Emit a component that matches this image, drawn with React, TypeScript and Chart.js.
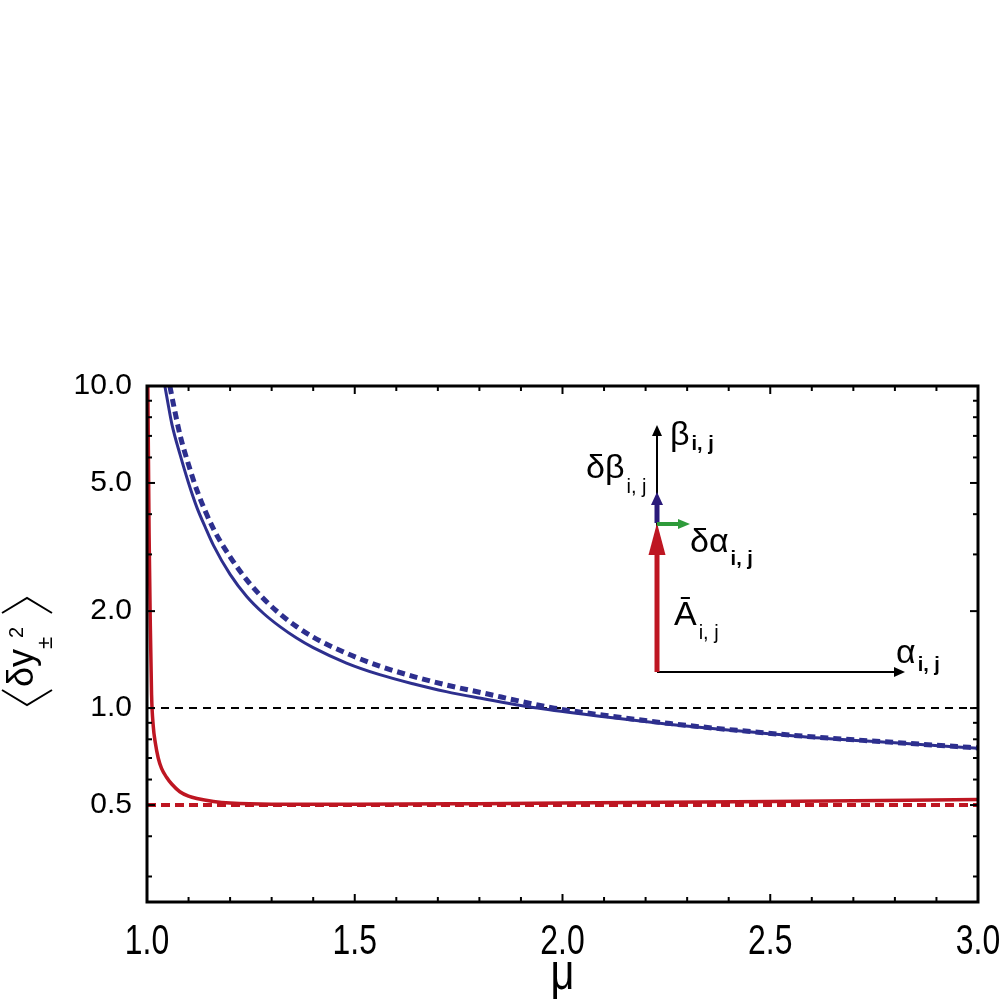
import React, { useEffect, useRef } from "react";
import { Chart, registerables } from "chart.js";

Chart.register(...registerables);

// ---- data ----
const X_TICKS = [1.0, 1.5, 2.0, 2.5, 3.0];
const X_TICK_LABELS = ["1.0", "1.5", "2.0", "2.5", "3.0"];
const X_MINOR = [1.1, 1.2, 1.3, 1.4, 1.6, 1.7, 1.8, 1.9, 2.1, 2.2, 2.3, 2.4, 2.6, 2.7, 2.8, 2.9];
const Y_TICKS = [0.5, 1, 2, 5, 10];
const Y_TICK_LABELS = ["0.5", "1.0", "2.0", "5.0", "10.0"];
const Y_MINOR = [0.3, 0.4, 0.6, 0.7, 0.8, 0.9, 3, 4, 6, 7, 8, 9];

const MU_BLUE_SOLID = [1.043, 1.05, 1.06, 1.08, 1.1, 1.12, 1.14, 1.16, 1.2, 1.24, 1.28, 1.32, 1.36, 1.4, 1.48, 1.56, 1.64, 1.72, 1.8, 1.94, 2.1, 2.26, 2.42, 2.58, 2.8, 3.0];
const Y_BLUE_SOLID = [10.0, 8.9, 7.6, 6.1, 5.0, 4.2, 3.65, 3.2, 2.6, 2.22, 1.97, 1.79, 1.65, 1.54, 1.38, 1.27, 1.19, 1.125, 1.075, 1.0, 0.94, 0.89, 0.85, 0.815, 0.78, 0.75];

const MU_BLUE_DASH = [1.055, 1.065, 1.08, 1.1, 1.12, 1.16, 1.2, 1.24, 1.28, 1.32, 1.36, 1.4, 1.48, 1.56, 1.64, 1.72, 1.8, 1.98, 2.1, 2.26, 2.42, 2.58, 2.8, 3.0];
const Y_BLUE_DASH = [10.0, 8.6, 7.0, 5.7, 4.75, 3.6, 2.95, 2.5, 2.19, 1.96, 1.79, 1.66, 1.48, 1.35, 1.255, 1.18, 1.12, 1.0, 0.95, 0.895, 0.853, 0.818, 0.782, 0.752];

const MU_RED_SOLID = [1.002, 1.005, 1.008, 1.011, 1.015, 1.02, 1.027, 1.035, 1.047, 1.06, 1.079, 1.1, 1.12, 1.16, 1.2, 1.3, 1.5, 1.8, 2.0, 2.5, 3.0];
const Y_RED_SOLID = [10.0, 3.5, 1.8, 1.1, 0.88, 0.78, 0.7, 0.65, 0.61, 0.58, 0.55, 0.533, 0.524, 0.513, 0.507, 0.503, 0.503, 0.505, 0.507, 0.513, 0.52];

const MU_REF = [1.0, 3.0];
const Y_RED_DASH = [0.5, 0.5];
const Y_BLACK_DASH = [1.0, 1.0];

// inset anchor (data coordinates of the diagram origin)
const INSET_MU = 2.227;
const INSET_VAL = 1.294;

const BLUE = "#2D2F8E";
const RED = "#BE1622";
const GREEN = "#2E9B3A";
const NAVY = "#2A1A7A";
const FONT = '"Liberation Sans", Arial, sans-serif';

const pts = (xs: number[], ys: number[]) => xs.map((x, i) => ({ x, y: ys[i] }));

function arrow(ctx: CanvasRenderingContext2D, x0: number, y0: number, x1: number, y1: number, color: string, w: number, hl: number, hw: number) {
  const dx = x1 - x0, dy = y1 - y0;
  const L = Math.hypot(dx, dy);
  const ux = dx / L, uy = dy / L;
  const bx = x1 - ux * hl, by = y1 - uy * hl;
  ctx.strokeStyle = color;
  ctx.fillStyle = color;
  ctx.lineWidth = w;
  ctx.lineCap = "butt";
  ctx.beginPath();
  ctx.moveTo(x0, y0);
  ctx.lineTo(bx + ux * 1, by + uy * 1);
  ctx.stroke();
  ctx.beginPath();
  ctx.moveTo(x1, y1);
  ctx.lineTo(bx - uy * hw, by + ux * hw);
  ctx.lineTo(bx + uy * hw, by - ux * hw);
  ctx.closePath();
  ctx.fill();
}

function sym(ctx: CanvasRenderingContext2D, main: string, sub: string, x: number, y: number, subDy: number, bold: boolean) {
  ctx.fillStyle = "#000";
  ctx.textAlign = "left";
  ctx.textBaseline = "alphabetic";
  ctx.font = "34px " + FONT;
  ctx.fillText(main, x, y);
  const w = ctx.measureText(main).width;
  ctx.font = (bold ? "bold " : "") + "20px " + FONT;
  ctx.fillText(sub, x + w + 2, y + subDy);
}

function narrowText(ctx: CanvasRenderingContext2D, text: string, x: number, y: number, sx: number) {
  ctx.save();
  ctx.translate(x, y);
  ctx.scale(sx, 1);
  ctx.textAlign = "center";
  ctx.textBaseline = "alphabetic";
  ctx.fillText(text, 0, 0);
  ctx.restore();
}

const decorPlugin = {
  id: "decor",
  afterDraw(chart: any) {
    const { ctx, chartArea: a } = chart;
    const xs = chart.scales.x;
    const ys = chart.scales.y;
    ctx.save();
    // inward ticks
    ctx.strokeStyle = "#000";
    ctx.lineWidth = 2;
    const line = (x0: number, y0: number, x1: number, y1: number) => {
      ctx.beginPath();
      ctx.moveTo(x0, y0);
      ctx.lineTo(x1, y1);
      ctx.stroke();
    };
    X_TICKS.forEach((v) => {
      const p = xs.getPixelForValue(v);
      line(p, a.bottom, p, a.bottom - 8);
      line(p, a.top, p, a.top + 8);
    });
    X_MINOR.forEach((v) => {
      const p = xs.getPixelForValue(v);
      line(p, a.bottom, p, a.bottom - 5);
      line(p, a.top, p, a.top + 5);
    });
    Y_TICKS.forEach((v) => {
      const p = ys.getPixelForValue(v);
      line(a.left, p, a.left + 8, p);
      line(a.right, p, a.right - 8, p);
    });
    Y_MINOR.forEach((v) => {
      const p = ys.getPixelForValue(v);
      line(a.left, p, a.left + 5, p);
      line(a.right, p, a.right - 5, p);
    });
    // frame
    ctx.lineWidth = 3;
    ctx.strokeRect(a.left, a.top, a.right - a.left, a.bottom - a.top);

    // x tick labels (condensed face)
    ctx.fillStyle = "#000";
    ctx.font = "42px " + FONT;
    X_TICKS.forEach((v, i) => {
      narrowText(ctx, X_TICK_LABELS[i], xs.getPixelForValue(v), a.bottom + 52, 0.76);
    });

    // x axis title
    ctx.font = "52px " + FONT;
    narrowText(ctx, "μ", (a.left + a.right) / 2, 989, 0.8);

    // inset diagram
    const ox = Math.round(xs.getPixelForValue(INSET_MU));
    const oy = Math.round(ys.getPixelForValue(INSET_VAL));
    arrow(ctx, ox, oy, ox + 248, oy, "#000", 2, 11, 5);
    arrow(ctx, ox, oy, ox, oy - 247, "#000", 2, 11, 5);
    arrow(ctx, ox, oy, ox, oy - 149, RED, 5, 32, 8.5);
    arrow(ctx, ox, oy - 149, ox, oy - 180, NAVY, 5, 13, 6);
    arrow(ctx, ox, oy - 148, ox + 33, oy - 148, GREEN, 4, 12, 5);

    sym(ctx, "β", "i, j", ox + 13, oy - 227, 5, true);
    sym(ctx, "δβ", "i, j", ox - 71, oy - 194, 15, false);
    sym(ctx, "δα", "i, j", ox + 33, oy - 120, 13, true);
    sym(ctx, "Ā", "i, j", ox + 17, oy - 47, 14, false);
    sym(ctx, "α", "i, j", ox + 239, oy - 9, 8, true);

    // y axis title  <δy±²>
    ctx.translate(27, 652);
    ctx.rotate(-Math.PI / 2);
    ctx.lineWidth = 2;
    ctx.strokeStyle = "#000";
    ctx.beginPath();
    ctx.moveTo(-38, -25);
    ctx.lineTo(-53, 0);
    ctx.lineTo(-38, 25);
    ctx.stroke();
    ctx.beginPath();
    ctx.moveTo(39, -25);
    ctx.lineTo(54, 0);
    ctx.lineTo(39, 25);
    ctx.stroke();
    ctx.fillStyle = "#000";
    ctx.textAlign = "left";
    ctx.textBaseline = "alphabetic";
    ctx.font = "36px " + FONT;
    ctx.fillText("δy", -35, 6);
    ctx.font = "22px " + FONT;
    ctx.fillText("±", 3, 25);
    ctx.font = "20px " + FONT;
    ctx.fillText("2", 14, -4);
    ctx.restore();
  },
};

export default function App() {
  const ref = useRef<HTMLCanvasElement>(null);
  useEffect(() => {
    if (!ref.current) return;
    const chart = new Chart(ref.current, {
      type: "line",
      data: {
        datasets: [
          {
            label: "blue dashed",
            data: pts(MU_BLUE_DASH, Y_BLUE_DASH),
            borderColor: BLUE,
            borderWidth: 5,
            borderDash: [8, 5],
            pointRadius: 0,
            cubicInterpolationMode: "monotone",
            order: 0,
          },
          {
            label: "blue solid",
            data: pts(MU_BLUE_SOLID, Y_BLUE_SOLID),
            borderColor: BLUE,
            borderWidth: 3,
            pointRadius: 0,
            cubicInterpolationMode: "monotone",
            order: 1,
          },
          {
            label: "red solid",
            data: pts(MU_RED_SOLID, Y_RED_SOLID),
            borderColor: RED,
            borderWidth: 3.5,
            pointRadius: 0,
            cubicInterpolationMode: "monotone",
            order: 2,
          },
          {
            label: "red dashed",
            data: pts(MU_REF, Y_RED_DASH),
            borderColor: RED,
            borderWidth: 4,
            borderDash: [9, 5],
            pointRadius: 0,
            order: 3,
          },
          {
            label: "black dashed",
            data: pts(MU_REF, Y_BLACK_DASH),
            borderColor: "#000",
            borderWidth: 2,
            borderDash: [8, 6],
            pointRadius: 0,
            order: 4,
          },
        ],
      },
      options: {
        animation: false,
        responsive: false,
        layout: { padding: { top: 386, right: 22, left: 0, bottom: 0 } },
        plugins: { legend: { display: false }, tooltip: { enabled: false } },
        scales: {
          x: {
            type: "linear",
            min: 1,
            max: 3,
            grid: { display: false, drawTicks: false, tickLength: 0 },
            border: { display: false },
            afterBuildTicks: (s: any) => {
              s.ticks = X_TICKS.map((v) => ({ value: v }));
            },
            afterFit: (s: any) => {
              s.height = 98;
              s.paddingLeft = 0;
              s.paddingRight = 0;
            },
            ticks: { display: false },
          },
          y: {
            type: "logarithmic",
            min: 0.25,
            max: 10,
            grid: { display: false, drawTicks: false, tickLength: 0 },
            border: { display: false },
            afterBuildTicks: (s: any) => {
              s.ticks = Y_TICKS.map((v) => ({ value: v }));
            },
            afterFit: (s: any) => {
              s.width = 147;
              s.paddingTop = 0;
              s.paddingBottom = 0;
            },
            ticks: {
              autoSkip: false,
              padding: 15,
              color: "#000",
              font: { family: FONT, size: 30 },
              callback: (v: any) => {
                const i = Y_TICKS.indexOf(Number(v));
                return i >= 0 ? Y_TICK_LABELS[i] : "";
              },
            },
          },
        },
      },
      plugins: [decorPlugin],
    } as any);
    return () => chart.destroy();
  }, []);
  return (
    <div style={{ position: "absolute", left: 0, top: 0, width: 1000, height: 1000, background: "#fff" }}>
      <canvas ref={ref} width={1000} height={1000} style={{ display: "block" }} />
    </div>
  );
}
